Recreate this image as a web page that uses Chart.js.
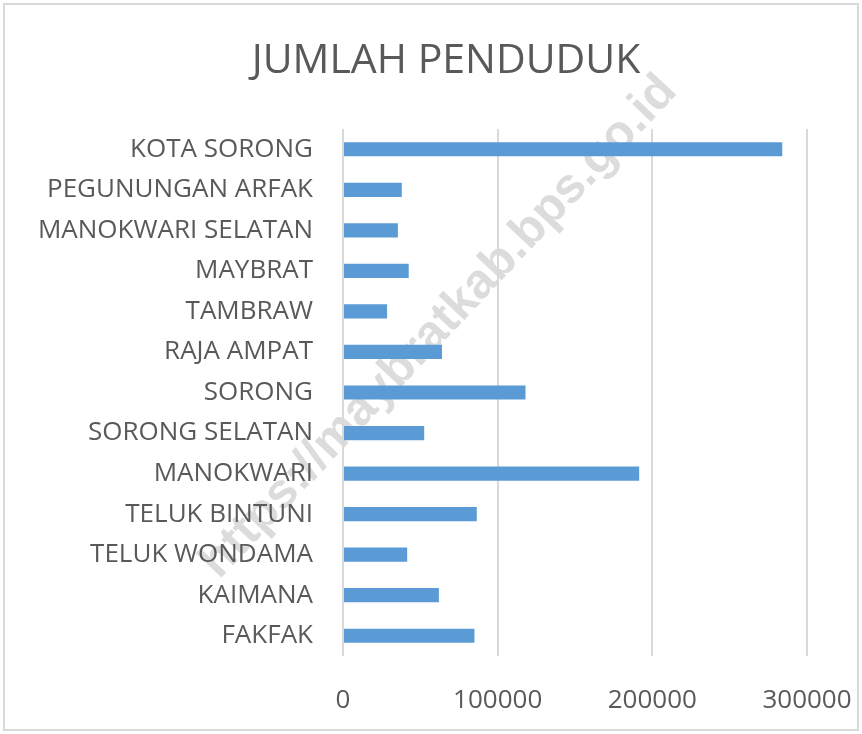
<!DOCTYPE html>
<html>
<head>
<meta charset="utf-8">
<script src="https://cdn.jsdelivr.net/npm/chart.js@4/dist/chart.umd.min.js"></script>
<style>
  body { margin: 0; background: #fff; }
  #wrap { width: 862px; height: 734px; }
</style>
</head>
<body>
<div id="wrap"><canvas id="penduduk" width="862" height="734"></canvas></div>
<script>
// data, top to bottom as on the chart
var kabupaten = ["KOTA SORONG", "PEGUNUNGAN ARFAK", "MANOKWARI SELATAN", "MAYBRAT", "TAMBRAW",
	"RAJA AMPAT", "SORONG", "SORONG SELATAN", "MANOKWARI", "TELUK BINTUNI",
	"TELUK WONDAMA", "KAIMANA", "FAKFAK"];
var jumlah = [284000, 38000, 35500, 42500, 28500, 64000, 118000, 52500, 191500, 86500, 41500, 62000, 85000];
var xTicks = [0, 100000, 200000, 300000];
var judul = "JUMLAH PENDUDUK";
var watermark = "https://maybratkab.bps.go.id";

var teks = "#595959";
var font = "'Open Sans', sans-serif";

// white bg, light frame, watermark under everything, title centred like excel does
var framePlugin = {
	id: "frame",
	beforeDraw: function(chart) {
		var c = chart.ctx;
		c.save();
		c.fillStyle = "#fff";
		c.fillRect(0, 0, chart.width, chart.height);
		c.strokeStyle = "#d9d9d9";
		c.lineWidth = 2;
		c.strokeRect(4, 4, chart.width - 8, chart.height - 8);

		c.fillStyle = teks;
		c.font = "41px " + font;
		c.textAlign = "center";
		c.textBaseline = "alphabetic";
		c.fillText(judul, 446, 73);

		c.translate(439, 327);
		c.rotate(-46.7 * Math.PI / 180);
		c.font = "bold 49px 'Liberation Sans', Arial, sans-serif";
		c.fillStyle = "#dcdcdc";
		c.textBaseline = "middle";
		c.fillText(watermark, 0, 0);
		c.restore();
	}
};

var ctx = document.getElementById("penduduk").getContext("2d");
new Chart(ctx, {
	type: "bar",
	data: {
		labels: kabupaten,
		datasets: [{
			label: judul,
			data: jumlah,
			backgroundColor: "#5b9bd5",
			borderWidth: 0,
			barPercentage: 0.35,
			categoryPercentage: 1
		}]
	},
	options: {
		indexAxis: "y",
		responsive: false,
		animation: false,
		layout: { padding: { left: 0, right: 55, top: 129, bottom: 0 } },
		plugins: {
			legend: { display: false },
			tooltip: { enabled: false },
			title: { display: false }
		},
		scales: {
			y: {
				grid: { display: false, drawTicks: false },
				border: { display: false },
				ticks: { color: teks, font: { family: font, size: 26 }, padding: 30, autoSkip: false },
				afterFit: function(s) { s.width = 343; }
			},
			x: {
				min: 0,
				max: 300000,
				afterBuildTicks: function(s) { s.ticks = xTicks.map(v => ({ value: v })); },
				grid: { color: "#d9d9d9", lineWidth: 2, drawTicks: false },
				border: { display: false },
				ticks: {
					color: teks, font: { family: font, size: 26 }, padding: 29, maxRotation: 0,
					callback: function(v) { return String(v); }
				},
				afterFit: function(s) {
					s.height = 78;
					s.paddingLeft = 0;
					s.paddingRight = 0;
				}
			}
		}
	},
	plugins: [framePlugin]
});
</script>
</body>
</html>
